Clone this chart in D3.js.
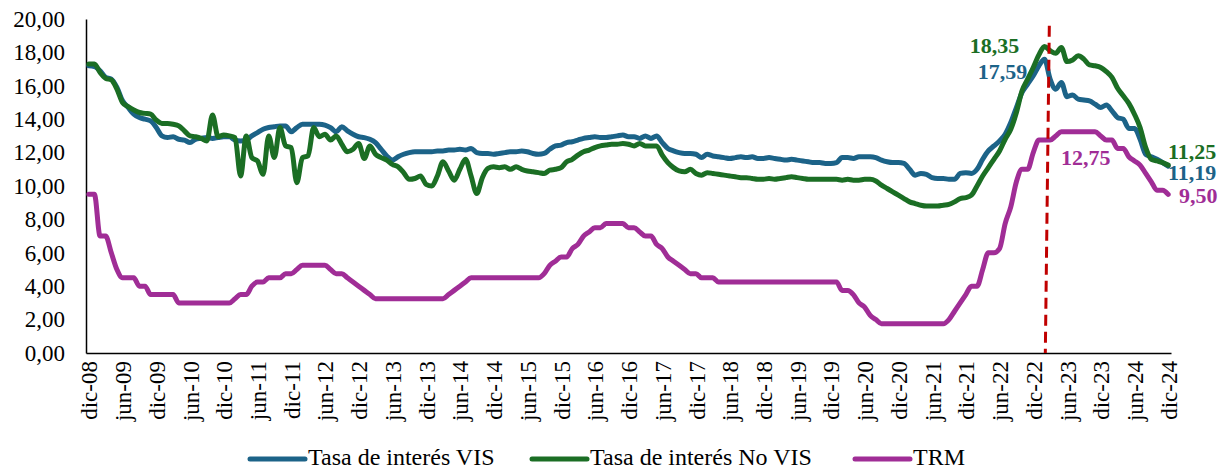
<!DOCTYPE html>
<html>
<head>
<meta charset="utf-8">
<script src="https://cdn.jsdelivr.net/npm/d3@7"></script>
<style>
  body { margin: 0; background: #fff; }
</style>
</head>
<body>
<svg id="chart" width="1229" height="469"></svg>
<script>
// monthly values, dic-08 .. dic-24 (first row = dic-08, then one row per year)
var vis = [
  17.2,
  17.15, 16.9, 16.5, 16.4, 15.9, 15.1, 14.7, 14.3, 14.1, 14.0, 13.9, 13.5,
  13.0, 12.9, 12.95, 12.8, 12.75, 12.6, 12.8, 12.85, 12.9, 12.85, 12.9, 12.95,
  12.95, 12.75, 12.7, 12.75, 13.0, 13.2, 13.4, 13.5, 13.55, 13.6, 13.6, 13.25,
  13.5, 13.7, 13.7, 13.7, 13.7, 13.65, 13.5, 13.25, 13.55, 13.3, 13.1, 12.95,
  12.9, 12.8, 12.6, 12.2, 11.8, 11.55, 11.75, 11.9, 12.0, 12.05, 12.05, 12.05,
  12.05, 12.1, 12.1, 12.15, 12.15, 12.2, 12.15, 12.25, 12.0, 11.95, 11.95, 11.9,
  11.95, 12.0, 12.05, 12.05, 12.1, 12.05, 11.95, 11.9, 11.95, 12.2, 12.4, 12.45,
  12.6, 12.65, 12.75, 12.85, 12.9, 12.95, 12.9, 12.9, 12.95, 13.0, 13.05, 12.95,
  12.95, 12.85, 13.0, 12.85, 13.0, 12.6, 12.25, 12.1, 12.0, 11.95, 11.95, 11.9,
  11.7, 11.9, 11.8, 11.75, 11.7, 11.65, 11.7, 11.75, 11.7, 11.75, 11.65, 11.65,
  11.7, 11.65, 11.6, 11.55, 11.6, 11.55, 11.5, 11.45, 11.4, 11.4, 11.35, 11.35,
  11.4, 11.7, 11.7, 11.65, 11.75, 11.75, 11.75, 11.7, 11.55, 11.45, 11.4, 11.4,
  11.35, 11.0, 10.65, 10.75, 10.7, 10.5, 10.45, 10.45, 10.4, 10.4, 10.75, 10.8,
  10.75, 11.0, 11.6, 12.1, 12.4, 12.7, 13.1, 13.8, 14.7, 15.6, 16.1, 16.6,
  17.2, 17.59, 16.4, 15.8, 16.2, 15.35, 15.45, 15.2, 15.15, 15.1, 14.9, 14.7,
  14.85, 14.5, 14.1, 14.0, 13.45, 13.45, 12.8, 11.9, 11.75, 11.6, 11.4, 11.19
];

var noVis = [
  17.3,
  17.3, 16.8, 16.45, 16.35, 15.8, 15.0, 14.75, 14.55, 14.4, 14.35, 14.3, 13.95,
  13.75, 13.75, 13.7, 13.6, 13.3, 13.0, 12.95, 12.85, 12.7, 14.25, 12.95, 13.05,
  13.0, 12.9, 10.6, 13.0, 11.7, 11.5, 10.7, 13.0, 11.7, 13.5, 12.4, 12.3,
  10.2, 11.7, 11.8, 13.5, 12.95, 13.1, 12.75, 13.0, 12.5, 12.05, 12.2, 12.55,
  11.65, 12.4, 11.9, 11.7, 11.55, 11.3, 11.15, 10.8, 10.4, 10.45, 10.6, 10.1,
  10.0, 10.6, 11.45, 10.9, 10.35, 11.0, 11.6, 10.6, 9.55, 10.5, 11.05, 11.15,
  11.1, 11.15, 11.0, 11.15, 11.0, 10.9, 10.85, 10.8, 10.75, 10.95, 11.0, 11.1,
  11.45, 11.6, 11.85, 12.05, 12.15, 12.3, 12.4, 12.45, 12.5, 12.5, 12.55, 12.5,
  12.4, 12.55, 12.4, 12.4, 12.4, 11.85, 11.4, 11.1, 10.9, 10.85, 11.0, 10.75,
  10.65, 10.8, 10.75, 10.7, 10.65, 10.6, 10.55, 10.5, 10.5, 10.45, 10.4, 10.4,
  10.45, 10.4, 10.45, 10.5, 10.55, 10.5, 10.45, 10.4, 10.4, 10.4, 10.4, 10.4,
  10.4, 10.35, 10.4, 10.35, 10.35, 10.4, 10.4, 10.3, 10.05, 9.85, 9.65, 9.45,
  9.25, 9.05, 8.95, 8.85, 8.8, 8.8, 8.8, 8.85, 8.9, 9.05, 9.25, 9.3,
  9.45, 10.0, 10.6, 11.1, 11.6, 12.1, 12.8, 13.4, 14.4, 15.7, 16.4, 17.1,
  17.85, 18.35, 18.1, 17.95, 18.3, 17.45, 17.55, 17.8, 17.6, 17.25, 17.2, 17.1,
  16.85, 16.5, 15.85, 15.4, 14.95, 14.3, 13.5, 12.3, 11.6, 11.5, 11.4, 11.25
];

var trm = [
  9.5,
  9.5, 7.0, 7.0, 6.0, 5.0, 4.5, 4.5, 4.5, 4.0, 4.0, 3.5, 3.5,
  3.5, 3.5, 3.5, 3.0, 3.0, 3.0, 3.0, 3.0, 3.0, 3.0, 3.0, 3.0,
  3.0, 3.25, 3.5, 3.5, 4.0, 4.25, 4.25, 4.5, 4.5, 4.5, 4.75, 4.75,
  5.0, 5.25, 5.25, 5.25, 5.25, 5.25, 5.0, 4.75, 4.75, 4.5, 4.25, 4.0,
  3.75, 3.5, 3.25, 3.25, 3.25, 3.25, 3.25, 3.25, 3.25, 3.25, 3.25, 3.25,
  3.25, 3.25, 3.25, 3.5, 3.75, 4.0, 4.25, 4.5, 4.5, 4.5, 4.5, 4.5,
  4.5, 4.5, 4.5, 4.5, 4.5, 4.5, 4.5, 4.5, 4.75, 5.25, 5.5, 5.75,
  5.75, 6.25, 6.5, 7.0, 7.25, 7.5, 7.5, 7.75, 7.75, 7.75, 7.75, 7.5,
  7.5, 7.25, 7.0, 7.0, 6.5, 6.25, 5.75, 5.5, 5.25, 5.0, 4.75, 4.75,
  4.5, 4.5, 4.5, 4.25, 4.25, 4.25, 4.25, 4.25, 4.25, 4.25, 4.25, 4.25,
  4.25, 4.25, 4.25, 4.25, 4.25, 4.25, 4.25, 4.25, 4.25, 4.25, 4.25, 4.25,
  4.25, 3.75, 3.75, 3.5, 3.0, 2.75, 2.25, 2.0, 1.75, 1.75, 1.75, 1.75,
  1.75, 1.75, 1.75, 1.75, 1.75, 1.75, 1.75, 1.75, 2.0, 2.5, 3.0, 3.5,
  4.0, 4.0, 5.0, 6.0, 6.0, 6.25, 7.75, 8.75, 10.25, 11.0, 11.0, 12.0,
  12.75, 12.75, 12.75, 13.0, 13.25, 13.25, 13.25, 13.25, 13.25, 13.25, 13.25, 13.0,
  12.75, 12.75, 12.25, 12.25, 11.75, 11.5, 11.25, 10.75, 10.25, 9.75, 9.75, 9.5
];

var tickLabels = ["dic-08","jun-09","dic-09","jun-10","dic-10","jun-11","dic-11","jun-12",
  "dic-12","jun-13","dic-13","jun-14","dic-14","jun-15","dic-15","jun-16","dic-16",
  "jun-17","dic-17","jun-18","dic-18","jun-19","dic-19","jun-20","dic-20","jun-21",
  "dic-21","jun-22","dic-22","jun-23","dic-23","jun-24","dic-24"];

var yTicks = [0, 2, 4, 6, 8, 10, 12, 14, 16, 18, 20];

var seriesNames = ["Tasa de interés VIS", "Tasa de interés No VIS", "TRM"];
var colors = ["#1C6388", "#1B6E24", "#A02D96"];

// month index of the red dashed marker (between feb-23 and mar-23)
var markerMonth = 170.5;

// peak / end labels: [series index, month index, text, dx, dy]
var callouts = [
  [1, 170, "18,35", -50, -1],
  [0, 170, "17,59", -42, 12],
  [2, 172, "12,75", 30, 21],
  [1, 192, "11,25", 24, -14],
  [0, 192, "11,19", 24, 6],
  [2, 192, "9,50", 30, 1]
];

var serif = "'Liberation Serif', 'Times New Roman', Times, serif";

var svg = d3.select("#chart");
var margin = {top: 19, right: 58, bottom: 116, left: 86};
var width = 1229 - margin.left - margin.right,
    height = 469 - margin.top - margin.bottom;

var g = svg.append("g")
    .attr("transform", "translate(" + margin.left + "," + margin.top + ")");

var months = d3.range(vis.length);

var x = d3.scalePoint()
    .domain(months)
    .range([0, width])
    .padding(0.5);

var y = d3.scaleLinear()
    .domain([0, 20])
    .range([height, 0]);

var allSeries = [vis, noVis, trm];

// y axis
var yAxis = d3.axisLeft(y)
    .tickValues(yTicks)
    .tickSize(0)
    .tickPadding(21)
    .tickFormat(function (d) { return d3.format(".2f")(d).replace(".", ","); });

var yg = g.append("g").call(yAxis);
yg.attr("font-family", null);
yg.select(".domain").attr("stroke", "#000").attr("stroke-width", 1.5);
yg.selectAll("text")
    .style("font-family", serif)
    .style("font-size", "23px")
    .attr("fill", "#000");

// x axis, a label every 6 months
var xAxis = d3.axisBottom(x)
    .tickValues(months.filter(function (d) { return d % 6 === 0; }))
    .tickSize(0)
    .tickFormat(function (d) { return tickLabels[d / 6]; });

var xg = g.append("g")
    .attr("transform", "translate(0," + height + ")")
    .call(xAxis);
xg.attr("font-family", null);
xg.select(".domain").attr("stroke", "#000").attr("stroke-width", 1.5);
xg.selectAll("text")
    .style("font-family", serif)
    .style("font-size", "23px")
    .attr("fill", "#000")
    .style("text-anchor", "end")
    .attr("transform", "rotate(-90)")
    .attr("x", -8)
    .attr("y", 0)
    .attr("dy", "0.35em");

// series
var line = d3.line()
    .x(function (d, i) { return x(i); })
    .y(function (d) { return y(d); })
    .curve(d3.curveMonotoneX);

g.selectAll(".series")
    .data(allSeries)
    .enter()
    .append("path")
    .attr("class", "series")
    .attr("fill", "none")
    .attr("stroke", function (d, i) { return colors[i]; })
    .attr("stroke-width", 5)
    .attr("stroke-linejoin", "round")
    .attr("stroke-linecap", "round")
    .attr("d", line);

// red dashed marker
var mx = x(Math.floor(markerMonth)) + (markerMonth % 1) * x.step();
g.append("line")
    .attr("x1", mx + 2).attr("x2", mx - 2)
    .attr("y1", y(19.6)).attr("y2", height)
    .attr("stroke", "#C00000")
    .attr("stroke-width", 3)
    .attr("stroke-dasharray", "11,6");

// value labels
g.selectAll(".callout")
    .data(callouts)
    .enter()
    .append("text")
    .attr("class", "callout")
    .attr("x", function (d) { return x(d[1]) + d[3]; })
    .attr("y", function (d) { return y(allSeries[d[0]][d[1]]) + d[4]; })
    .attr("text-anchor", "middle")
    .attr("dy", "0.35em")
    .style("font-family", serif)
    .style("font-size", "22px")
    .style("font-weight", "bold")
    .attr("fill", function (d) { return colors[d[0]]; })
    .text(function (d) { return d[2]; });

// legend
var legendX = [250, 532, 855];
var legend = svg.append("g");
seriesNames.forEach(function (name, i) {
    legend.append("line")
        .attr("x1", legendX[i]).attr("x2", legendX[i] + 55)
        .attr("y1", 459).attr("y2", 459)
        .attr("stroke", colors[i])
        .attr("stroke-width", 5)
        .attr("stroke-linecap", "round");
    legend.append("text")
        .attr("x", legendX[i] + 58)
        .attr("y", 465)
        .style("font-family", serif)
        .style("font-size", "24px")
        .attr("fill", "#000")
        .text(name);
});
</script>
</body>
</html>
